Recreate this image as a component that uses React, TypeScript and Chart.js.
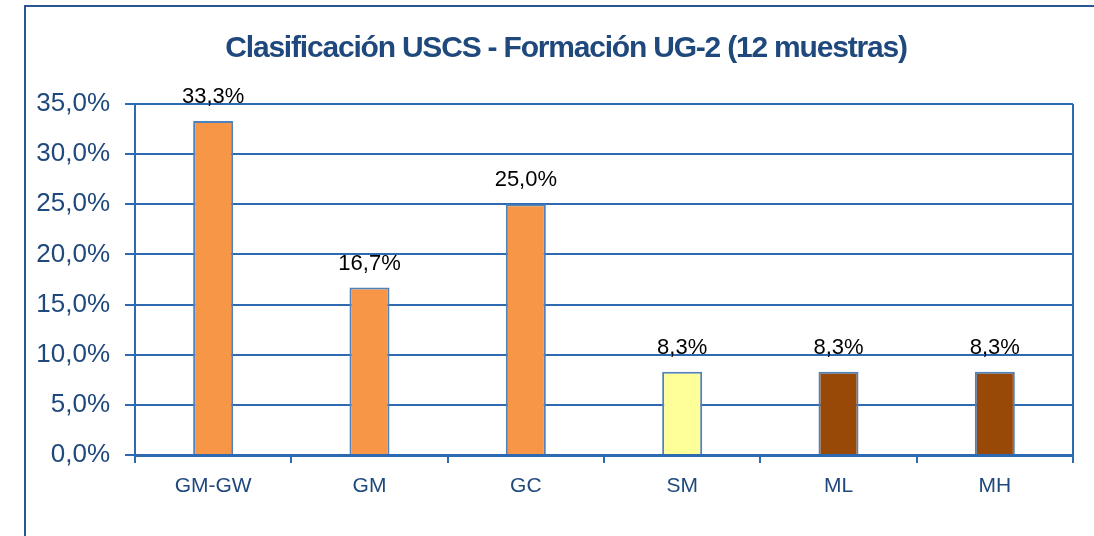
import React, { useEffect, useRef } from "react";
import { Chart, registerables } from "chart.js";

Chart.register(...registerables);

const categories = ["GM-GW", "GM", "GC", "SM", "ML", "MH"];
const percentages = [33.3, 16.7, 25.0, 8.3, 8.3, 8.3];
const barColors = ["#F79646", "#F79646", "#F79646", "#FFFF99", "#984807", "#984807"];
const yTicks = [0, 5, 10, 15, 20, 25, 30, 35];
const titleText = "Clasificación USCS - Formación UG-2 (12 muestras)";

const FONT = "Arial, 'Liberation Sans', sans-serif";
const TEXT_BLUE = "#1F497D";
const GRID_BLUE = "#2E6AB1";
const FRAME_BLUE = "#2B5592";

const fmt = (v: number) => v.toFixed(1).replace(".", ",") + "%";

const framePlugin = {
  id: "frame",
  beforeDraw(chart: any) {
    const { ctx, width, height } = chart;
    ctx.save();
    ctx.fillStyle = "#FFFFFF";
    ctx.fillRect(0, 0, width, height);
    ctx.strokeStyle = FRAME_BLUE;
    ctx.lineWidth = 2;
    ctx.strokeRect(25, 6, width + 100, height + 100);
    // title
    ctx.fillStyle = TEXT_BLUE;
    ctx.font = `bold 30px ${FONT}`;
    try {
      (ctx as any).letterSpacing = "-1.2px";
    } catch (e) {}
    ctx.textAlign = "center";
    ctx.textBaseline = "alphabetic";
    ctx.fillText(titleText, 566, 57);
    ctx.restore();
  },
  afterDraw(chart: any) {
    const { ctx, chartArea } = chart;
    ctx.save();
    ctx.strokeStyle = GRID_BLUE;
    ctx.lineWidth = 2;
    ctx.beginPath();
    ctx.moveTo(chartArea.right, chartArea.top);
    ctx.lineTo(chartArea.right, chartArea.bottom);
    ctx.stroke();
    ctx.restore();
  },
};

const labelPlugin = {
  id: "barLabels",
  afterDatasetsDraw(chart: any) {
    const { ctx } = chart;
    const meta = chart.getDatasetMeta(0);
    ctx.save();
    ctx.font = `22px ${FONT}`;
    ctx.fillStyle = "#000000";
    ctx.textAlign = "center";
    ctx.textBaseline = "alphabetic";
    meta.data.forEach((bar: any, i: number) => {
      ctx.fillText(fmt(percentages[i]), bar.x, bar.y - 18);
    });
    ctx.restore();
  },
};

export default function App() {
  const ref = useRef<HTMLCanvasElement | null>(null);

  useEffect(() => {
    if (!ref.current) return;
    const chart = new Chart(ref.current, {
      type: "bar",
      data: {
        labels: categories,
        datasets: [
          {
            data: percentages,
            backgroundColor: barColors,
            borderColor: "#4F81BD",
            borderWidth: 2,
            barPercentage: 0.256,
            categoryPercentage: 1,
          },
        ],
      },
      options: {
        animation: false,
        responsive: true,
        maintainAspectRatio: false,
        layout: { padding: { left: 0, right: 21, top: 104, bottom: 31 } },
        plugins: {
          legend: { display: false },
          tooltip: { enabled: false },
          title: { display: false },
        },
        scales: {
          x: {
            offset: true,
            grid: {
              display: true,
              drawOnChartArea: false,
              drawTicks: true,
              tickLength: 8,
              color: GRID_BLUE,
              lineWidth: 2,
              offset: true,
            },
            border: { display: true, color: GRID_BLUE, width: 3 },
            ticks: {
              color: TEXT_BLUE,
              font: { family: FONT, size: 21 },
              padding: 11,
            },
            afterFit(scale: any) {
              scale.height = 50;
            },
          },
          y: {
            min: 0,
            max: 35,
            afterBuildTicks(scale: any) {
              scale.ticks = yTicks.map((v) => ({ value: v }));
            },
            grid: {
              color: GRID_BLUE,
              lineWidth: 2,
              tickLength: 10,
              drawTicks: true,
            },
            border: { display: true, color: GRID_BLUE, width: 2 },
            ticks: {
              color: TEXT_BLUE,
              font: { family: FONT, size: 26 },
              padding: 15,
              callback: (v: any) => fmt(Number(v)),
            },
            afterFit(scale: any) {
              scale.width = 135;
            },
          },
        },
      },
      plugins: [framePlugin, labelPlugin],
    });
    return () => chart.destroy();
  }, []);

  return (
    <div style={{ position: "fixed", left: 0, top: 0, width: 1094, height: 536, background: "#fff" }}>
      <canvas ref={ref} />
    </div>
  );
}
